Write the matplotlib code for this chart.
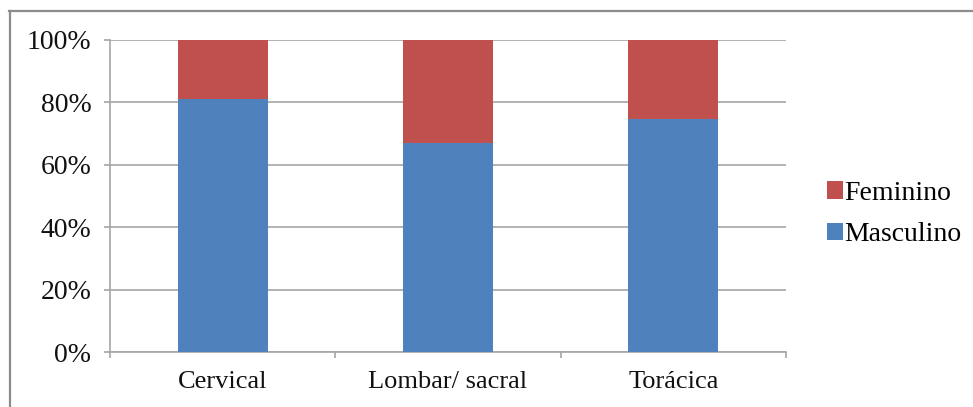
import matplotlib
matplotlib.use("Agg")
import matplotlib.pyplot as plt
from matplotlib.lines import Line2D
from matplotlib.ticker import FixedLocator, FuncFormatter

categories = ["Cervical", "Lombar/ sacral", "Torácica"]
masculino = [81.1, 67.0, 74.7]
feminino = [100 - v for v in masculino]
yticks = [0, 20, 40, 60, 80, 100]

blue = "#4F81BD"
red = "#C0504D"
grid_gray = "#A6A6A6"

W, H = 973, 407
fig = plt.figure(figsize=(W / 100, H / 100), dpi=100)
plt.rcParams["font.family"] = ["Liberation Serif", "DejaVu Serif"]

ax = fig.add_axes([110 / W, (H - 352) / H, 676 / W, 312 / H])
x = list(range(len(categories)))
ax.bar(x, masculino, width=0.4, color=blue, label="Masculino", zorder=3)
ax.bar(x, feminino, width=0.4, bottom=masculino, color=red, label="Feminino", zorder=3)

ax.set_xlim(-0.5, len(categories) - 0.5)
ax.set_ylim(0, 100)
ax.set_yticks(yticks)
ax.yaxis.set_major_formatter(FuncFormatter(lambda v, p: f"{v:.0f}%"))
ax.set_xticks(x)
ax.set_xticklabels(categories)
ax.xaxis.set_minor_locator(FixedLocator([i - 0.5 for i in range(len(categories) + 1)]))

ax.grid(axis="y", color=grid_gray, linewidth=1.2, zorder=0)
ax.set_axisbelow(True)
for s in ("top", "right"):
    ax.spines[s].set_visible(False)
for s in ("left", "bottom"):
    ax.spines[s].set_color(grid_gray)
    ax.spines[s].set_linewidth(1.2)

ax.tick_params(axis="y", length=4.5, width=1.2, color=grid_gray, pad=9,
               labelsize=20, labelcolor="#111111")
ax.tick_params(axis="x", which="major", length=0, pad=14,
               labelsize=19, labelcolor="#111111")
ax.tick_params(axis="x", which="minor", length=4.5, width=1.2, color=grid_gray)

handles, labels = ax.get_legend_handles_labels()
fig.legend(handles[::-1], labels[::-1], loc="center left",
           bbox_to_anchor=(827 / W, 1 - 214 / H), frameon=False,
           fontsize=20, handlelength=0.58, handleheight=0.58,
           handletextpad=0.05, labelspacing=0.6, borderaxespad=0, borderpad=0)

# outer frame (top and left edges)
fig.add_artist(Line2D([9 / W, 1.0], [1 - 10.5 / H, 1 - 10.5 / H],
                      transform=fig.transFigure, color="#8C8C8C", linewidth=1.6))
fig.add_artist(Line2D([9.5 / W, 9.5 / W], [0.0, 1 - 10.5 / H],
                      transform=fig.transFigure, color="#8C8C8C", linewidth=1.6))

fig.savefig("out.png", dpi=100)
